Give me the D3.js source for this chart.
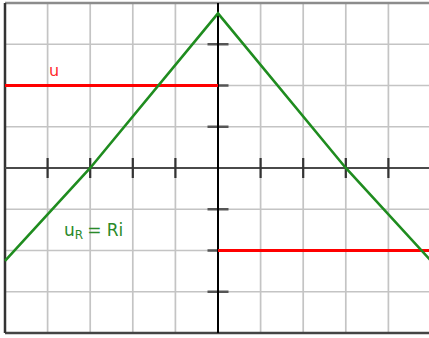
<!DOCTYPE html>
<html>
<head>
<meta charset="utf-8">
<script src="https://cdnjs.cloudflare.com/ajax/libs/d3/7.8.5/d3.min.js"></script>
<style>
  body { margin: 0; background: #fff; }
  svg { display: block; }
</style>
</head>
<body>
<div id="graph"></div>
<script>
// grid / tick positions (in grid units)
var gridX = [-5, -4, -3, -2, -1, 0, 1, 2, 3, 4, 5];
var gridY = [-4, -3, -2, -1, 0, 1, 2, 3, 4];
var xTicks = [-4, -3, -2, -1, 1, 2, 3, 4];
var yTicks = [-3, -2, -1, 1, 2, 3];

// u : square wave, two flat pieces
var uStart = [-5, 0];
var uEnd = [0, 5];
var uValues = [2, -2];

// uR = Ri
var urTimes = [-5, -3, 0, 3, 5];
var urValues = [-2.25, 0, 3.75, 0, -2.25];

var width = 429, height = 338;

var svg = d3.select("#graph")
  .append("svg")
    .attr("width", width)
    .attr("height", height);

var x = d3.scaleLinear().domain([-5, 5]).range([5, 431]);
var y = d3.scaleLinear().domain([-4, 4]).range([333, 3]);

// grid
svg.append("g").selectAll("line")
  .data(gridX)
  .join("line")
    .attr("x1", d => x(d)).attr("x2", d => x(d))
    .attr("y1", y(4)).attr("y2", y(-4))
    .attr("stroke", "#c4c4c4")
    .attr("stroke-width", 1.7);

svg.append("g").selectAll("line")
  .data(gridY)
  .join("line")
    .attr("x1", x(-5)).attr("x2", width)
    .attr("y1", d => y(d)).attr("y2", d => y(d))
    .attr("stroke", "#c4c4c4")
    .attr("stroke-width", 1.7);

// frame
svg.append("line")
  .attr("x1", x(-5)).attr("x2", width)
  .attr("y1", y(4)).attr("y2", y(4))
  .attr("stroke", "#8c8c8c").attr("stroke-width", 2.5);
svg.append("line")
  .attr("x1", x(-5)).attr("x2", width)
  .attr("y1", y(-4)).attr("y2", y(-4))
  .attr("stroke", "#444").attr("stroke-width", 2.5);
svg.append("line")
  .attr("x1", x(-5)).attr("x2", x(-5))
  .attr("y1", y(4)).attr("y2", y(-4))
  .attr("stroke", "#333").attr("stroke-width", 2.5);

// horizontal axis
svg.append("line")
  .attr("x1", x(-5)).attr("x2", width)
  .attr("y1", y(0)).attr("y2", y(0))
  .attr("stroke", "#4a4a4a").attr("stroke-width", 2);

svg.append("g").selectAll("line")
  .data(xTicks)
  .join("line")
    .attr("x1", d => x(d)).attr("x2", d => x(d))
    .attr("y1", y(0) - 10).attr("y2", y(0) + 10)
    .attr("stroke", "#333")
    .attr("stroke-width", 2.2);

svg.append("g").selectAll("line")
  .data(yTicks)
  .join("line")
    .attr("x1", x(0) - 10.5).attr("x2", x(0) + 10.5)
    .attr("y1", d => y(d)).attr("y2", d => y(d))
    .attr("stroke", "#555")
    .attr("stroke-width", 2.5);

// vertical axis
svg.append("line")
  .attr("x1", x(0)).attr("x2", x(0))
  .attr("y1", y(4)).attr("y2", y(-4))
  .attr("stroke", "#000").attr("stroke-width", 2);

// u
svg.append("g").selectAll("line")
  .data(uValues)
  .join("line")
    .attr("x1", (d, i) => x(uStart[i]))
    .attr("x2", (d, i) => x(uEnd[i]))
    .attr("y1", d => y(d)).attr("y2", d => y(d))
    .attr("stroke", "#ff0000")
    .attr("stroke-width", 3.2);

// uR
var line = d3.line()
  .x((d, i) => x(urTimes[i]))
  .y(d => y(d));

svg.append("path")
  .datum(urValues)
  .attr("d", line)
  .attr("fill", "none")
  .attr("stroke", "#1f8c1f")
  .attr("stroke-width", 2.6);

// labels
svg.append("text")
  .attr("x", 49).attr("y", 76)
  .attr("font-family", "DejaVu Sans")
  .attr("font-size", 16)
  .attr("fill", "#ff2a2a")
  .text("u");

var lbl = svg.append("text")
  .attr("x", 64).attr("y", 236)
  .attr("font-family", "DejaVu Sans")
  .attr("font-size", 17)
  .attr("fill", "#2a8a2a");
lbl.append("tspan").text("u");
lbl.append("tspan").attr("font-size", 12).attr("dy", 3).text("R");
lbl.append("tspan").attr("dy", -3).attr("dx", 4).text("= Ri");
</script>
</body>
</html>
